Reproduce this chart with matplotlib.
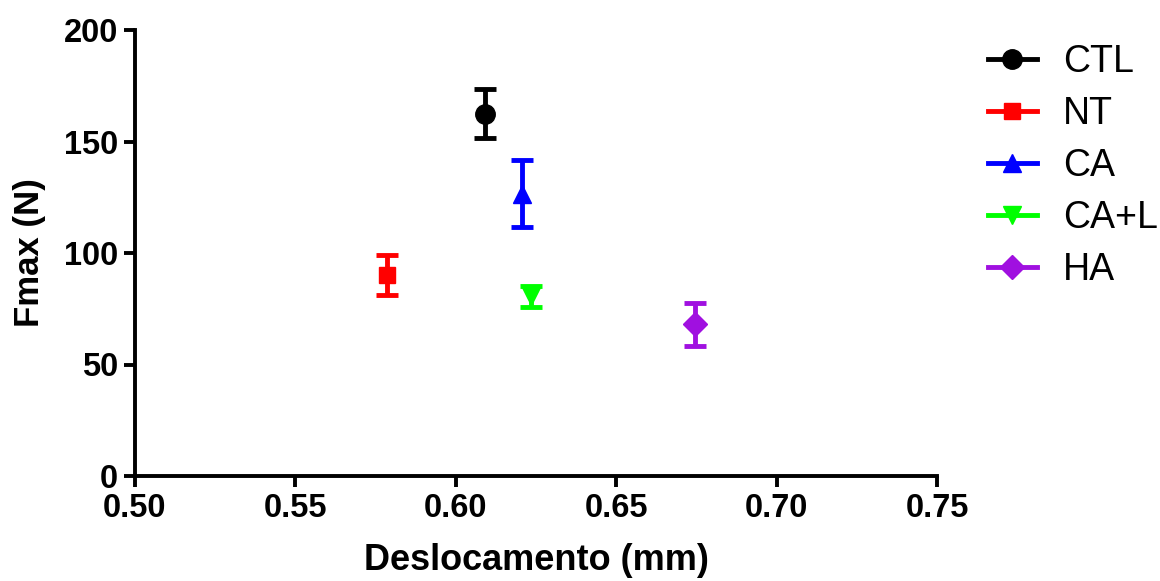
import matplotlib
matplotlib.use('Agg')
import matplotlib.pyplot as plt
from matplotlib.lines import Line2D

plt.rcParams['font.family'] = ['Liberation Sans', 'DejaVu Sans']

# Group data (mean +/- error)
groups = ['CTL', 'NT', 'CA', 'CA+L', 'HA']
displacement = [0.609, 0.5785, 0.6207, 0.6234, 0.6746]
fmax = [162.5, 90.0, 126.5, 80.5, 68.0]
fmax_err = [11.0, 9.0, 15.0, 4.5, 9.5]

colors = ['#000000', '#ff0000', '#0000ff', '#00ff00', '#a010e0']
markers = ['o', 's', '^', 'v', 'D']
msizes = [14, 12, 13, 13, 12]

fig = plt.figure(figsize=(11.6, 5.81), dpi=100)
ax = fig.add_axes([135 / 1160, 1 - 476 / 581, (937 - 135) / 1160, (476 - 30) / 581])

for i in range(len(groups)):
    ax.errorbar(displacement[i], fmax[i], yerr=fmax_err[i], fmt=markers[i],
                color=colors[i], ms=msizes[i], elinewidth=3.5, capsize=8, capthick=3.5,
                label=groups[i], clip_on=False)

ax.set_xlim(0.50, 0.75)
ax.set_ylim(0, 200)
ax.set_xticks([0.50, 0.55, 0.60, 0.65, 0.70, 0.75])
ax.set_xticklabels(['0.50', '0.55', '0.60', '0.65', '0.70', '0.75'])
ax.set_yticks([0, 50, 100, 150, 200])

for side in ['top', 'right']:
    ax.spines[side].set_visible(False)
for side in ['left', 'bottom']:
    ax.spines[side].set_linewidth(2.8)

ax.tick_params(axis='both', direction='out', length=8, width=2.8, labelsize=23.5, pad=4)
for lab in ax.get_xticklabels() + ax.get_yticklabels():
    lab.set_fontweight('bold')

ax.set_xlabel('Deslocamento (mm)', fontsize=26, fontweight='bold', labelpad=14)
ax.set_ylabel('Fmax (N)', fontsize=25, fontweight='bold', labelpad=13)

# legend with line through the marker
handles = [Line2D([], [], color=colors[i], marker=markers[i], ms=msizes[i], lw=3.5)
           for i in range(len(groups))]
fig.legend(handles, groups, loc='upper left', bbox_to_anchor=(988 / 1160, 1 - 44 / 581),
           frameon=False, fontsize=27, handlelength=1.3, handletextpad=0.7,
           labelspacing=0.43, borderaxespad=0, borderpad=0)

fig.savefig('out.png', dpi=100)
